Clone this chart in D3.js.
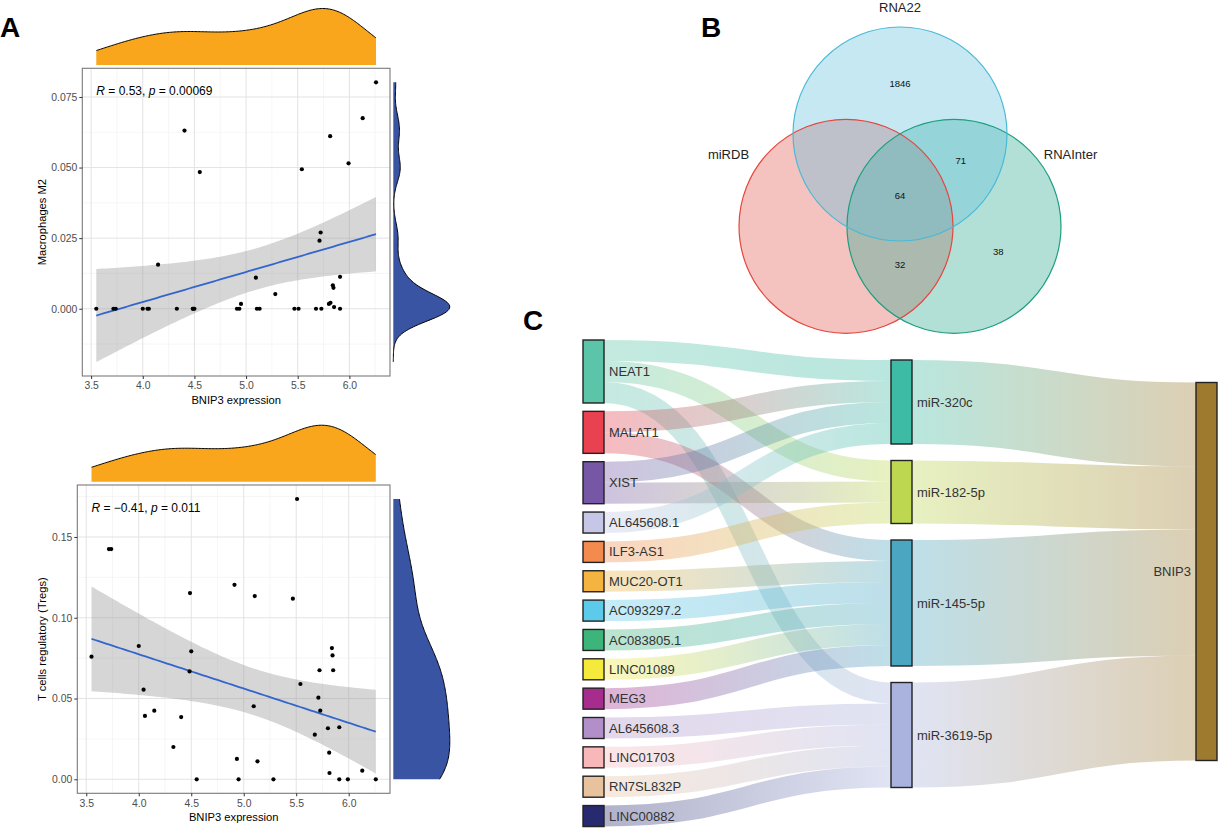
<!DOCTYPE html>
<html><head><meta charset="utf-8">
<script src="https://cdn.jsdelivr.net/npm/d3@7"></script>
<style>
body{margin:0;background:#fff}
svg{display:block;font-family:"Liberation Sans",Arial,sans-serif}
</style>
</head><body>
<svg id="fig" width="1218" height="828"></svg>
<script>
// ---------------- DATA ----------------
// Panel A: BNIP3 expression vs immune cell fractions (one value per sample)
const bnip3Expression = [3.55,3.716,3.738,4.00,4.046,4.059,4.148,4.33,4.404,4.484,4.488,4.50,4.552,4.912,4.935,4.951,5.095,5.105,5.131,5.283,5.468,5.508,5.540,5.677,5.711,5.722,5.729,5.802,5.814,5.817,5.840,5.846,5.852,5.910,5.910,5.992,6.129,6.258];
const macrophagesM2 = [0,0,0,0,0,0,0.0156,0,0.0631,0,0,0,0.0484,0,0,0.0017,0.011,0,0,0.0052,0,0,0.0494,0,0.0241,0.027,0,0.0017,0.0611,0.0021,0.0083,0.0074,0.0006,0,0.0113,0.0515,0.0675,0.0802];
const tregs = [0.0759,0.1425,0.1425,0.0825,0.0555,0.0392,0.0425,0.0200,0.0385,0.0668,0.1153,0.0792,0,0.1204,0.0126,0,0.0452,0.1134,0.0111,0,0.1118,0.1735,0.059,0.0276,0.0505,0.0675,0.0425,0.0316,0.0165,0.0039,0.0812,0.0767,0.0675,0.0322,0,0,0.0053,0];
const xTicks = [3.5,4.0,4.5,5.0,5.5,6.0];
const m2Ticks = [0,0.025,0.05,0.075];
const tregTicks = [0,0.05,0.10,0.15];
const corR = ["0.53","\u22120.41"];
const corP = ["0.00069","0.011"];
const yTitles = ["Macrophages M2","T cells regulatory (Tregs)"];
const xTitle = "BNIP3 expression";

// Panel B: Venn
const vennSets = ["RNA22","miRDB","RNAInter"];
const vennFill = ["#62BEDD","#E35A4E","#2AA990"];
const vennStroke = ["#49B9D6","#E4473E","#1E9E80"];
const vennRegionSets = [["RNA22"],["RNA22","RNAInter"],["RNA22","miRDB","RNAInter"],["miRDB","RNAInter"],["RNAInter"]];
const vennCounts = [1846,71,64,32,38];

// Panel C: Sankey lncRNA -> miRNA -> BNIP3
const lncRNAs = ["NEAT1","MALAT1","XIST","AL645608.1","ILF3-AS1","MUC20-OT1","AC093297.2","AC083805.1","LINC01089","MEG3","AL645608.3","LINC01703","RN7SL832P","LINC00882"];
const lncColors = ["#5CC4A8","#E9414F","#7657A6","#C6C6E6","#F38A4E","#F4B43F","#5CCBEB","#3DB57A","#F5EA3B","#A62D8E","#B28FC8","#F8B8BA","#E8C29D","#272A6E"];
const miRNAs = ["miR-320c","miR-182-5p","miR-145-5p","miR-3619-5p"];
const miRColors = ["#3DBBA4","#BDD751","#4AA6C1","#A9B3DD"];
const targetGene = ["BNIP3"];
const targetColor = ["#9E7A2E"];
const lncToMiR = [
  ["NEAT1","miR-320c"],["NEAT1","miR-182-5p"],["NEAT1","miR-3619-5p"],
  ["MALAT1","miR-320c"],["MALAT1","miR-145-5p"],
  ["XIST","miR-320c"],["XIST","miR-182-5p"],
  ["AL645608.1","miR-320c"],["ILF3-AS1","miR-182-5p"],
  ["MUC20-OT1","miR-145-5p"],["AC093297.2","miR-145-5p"],["AC083805.1","miR-145-5p"],
  ["LINC01089","miR-145-5p"],["MEG3","miR-145-5p"],
  ["AL645608.3","miR-3619-5p"],["LINC01703","miR-3619-5p"],["RN7SL832P","miR-3619-5p"],["LINC00882","miR-3619-5p"]
];

// ---------------- HELPERS ----------------
const svg = d3.select("#fig");
svg.append("rect").attr("width",1218).attr("height",828).attr("fill","#fff");
const defs = svg.append("defs");

function bwNrd0(x){
  const s = x.slice().sort(d3.ascending);
  const sd = d3.deviation(s);
  const iqr = d3.quantileSorted(s,0.75) - d3.quantileSorted(s,0.25);
  let lo = Math.min(sd, iqr/1.34);
  if(!(lo>0)) lo = sd || 1;
  return 0.9*lo*Math.pow(x.length,-0.2);
}
function kde(values,bw,lo,hi,n){
  const out=[];
  for(let i=0;i<n;i++){
    const v = lo+(hi-lo)*i/(n-1);
    let s=0;
    for(const xi of values){const z=(v-xi)/bw; s+=Math.exp(-0.5*z*z);}
    out.push([v, s/(values.length*bw*Math.sqrt(2*Math.PI))]);
  }
  return out;
}
function linFit(x,y){
  const n=x.length, mx=d3.mean(x), my=d3.mean(y);
  let sxx=0,sxy=0; for(let i=0;i<n;i++){sxx+=(x[i]-mx)**2; sxy+=(x[i]-mx)*(y[i]-my);}
  const b=sxy/sxx, a=my-b*mx;
  let rss=0; for(let i=0;i<n;i++){rss+=(y[i]-a-b*x[i])**2;}
  return {a,b,n,mx,sxx,s:Math.sqrt(rss/(n-2))};
}
const T975 = 2.028; // qt(0.975, df = 36)

function scatterPanel(cfg){
  const {xs, ys, box, yTicks, yFmt, yTitle, r, p, yTitleX} = cfg;
  const g = svg.append("g");
  const fit = linFit(xs,ys);
  const xmin=d3.min(xs), xmax=d3.max(xs);
  const band = d3.range(80).map(i=>{
    const xv = xmin+(xmax-xmin)*i/79;
    const yh = fit.a+fit.b*xv;
    const se = fit.s*Math.sqrt(1/fit.n+(xv-fit.mx)**2/fit.sxx);
    return {x:xv,y:yh,lo:yh-T975*se,hi:yh+T975*se};
  });
  const ylo = Math.min(d3.min(ys), d3.min(band,d=>d.lo));
  const yhi = Math.max(d3.max(ys), d3.max(band,d=>d.hi));
  const xpad=(xmax-xmin)*0.05, ypad=(yhi-ylo)*0.05;
  const x = d3.scaleLinear().domain([xmin-xpad,xmax+xpad]).range([box.left,box.right]);
  const y = d3.scaleLinear().domain([ylo-ypad,yhi+ypad]).range([box.bottom,box.top]);

  function minors(ticks, dom){
    const st = ticks[1]-ticks[0];
    const m = [];
    for(let v=ticks[0]-st/2; v<=dom[1]; v+=st){ if(v>=dom[0]) m.push(v); }
    return m;
  }
  g.append("rect").attr("x",box.left).attr("y",box.top).attr("width",box.right-box.left).attr("height",box.bottom-box.top).attr("fill","#fff");
  const gx = minors(xTicks,x.domain()), gy = minors(yTicks,y.domain());
  g.selectAll(".mnx").data(gx).join("line").attr("x1",d=>x(d)).attr("x2",d=>x(d)).attr("y1",box.top).attr("y2",box.bottom).attr("stroke","#F0F0F0").attr("stroke-width",0.6);
  g.selectAll(".mny").data(gy).join("line").attr("y1",d=>y(d)).attr("y2",d=>y(d)).attr("x1",box.left).attr("x2",box.right).attr("stroke","#F0F0F0").attr("stroke-width",0.6);
  g.selectAll(".mjx").data(xTicks).join("line").attr("x1",d=>x(d)).attr("x2",d=>x(d)).attr("y1",box.top).attr("y2",box.bottom).attr("stroke","#E3E3E3").attr("stroke-width",1);
  g.selectAll(".mjy").data(yTicks).join("line").attr("y1",d=>y(d)).attr("y2",d=>y(d)).attr("x1",box.left).attr("x2",box.right).attr("stroke","#E3E3E3").attr("stroke-width",1);

  g.append("path").datum(band).attr("d",d3.area().x(d=>x(d.x)).y0(d=>y(d.lo)).y1(d=>y(d.hi))).attr("fill","#999").attr("fill-opacity",0.4);
  g.append("path").datum(band).attr("d",d3.line().x(d=>x(d.x)).y(d=>y(d.y))).attr("fill","none").attr("stroke","#3366CC").attr("stroke-width",1.8);

  g.selectAll(".pt").data(xs.map((v,i)=>[v,ys[i]])).join("circle").attr("cx",d=>x(d[0])).attr("cy",d=>y(d[1])).attr("r",2.1).attr("fill","#000");

  const lab = g.append("text").attr("x",x(xmin)).attr("y",y(yhi)+ (cfg.labDy||0)).attr("font-size",12).attr("fill","#000").attr("dy","0.35em");
  lab.append("tspan").attr("font-style","italic").text("R");
  lab.append("tspan").text(" = "+r+", ");
  lab.append("tspan").attr("font-style","italic").text("p");
  lab.append("tspan").text(" = "+p);

  g.append("rect").attr("x",box.left).attr("y",box.top).attr("width",box.right-box.left).attr("height",box.bottom-box.top).attr("fill","none").attr("stroke","#7A7A7A").attr("stroke-width",1.1);

  const ax = g.append("g").attr("transform",`translate(0,${box.bottom})`).call(d3.axisBottom(x).tickValues(xTicks).tickFormat(d3.format(".1f")).tickSize(3).tickPadding(3));
  const ay = g.append("g").attr("transform",`translate(${box.left},0)`).call(d3.axisLeft(y).tickValues(yTicks).tickFormat(d3.format(yFmt)).tickSize(3).tickPadding(2));
  [ax,ay].forEach(a=>{
    a.select(".domain").remove();
    a.selectAll(".tick line").attr("stroke","#333");
    a.selectAll(".tick text").attr("fill","#4D4D4D").attr("font-size",10.4).attr("font-family",null);
  });
  g.append("text").attr("x",(box.left+box.right)/2).attr("y",box.bottom+27.5).attr("text-anchor","middle").attr("font-size",11.2).attr("fill","#000").text(xTitle);
  g.append("text").attr("transform",`translate(${yTitleX},${(box.top+box.bottom)/2}) rotate(-90)`).attr("text-anchor","middle").attr("dy","0.35em").attr("font-size",11.2).attr("fill","#000").text(yTitle);

  const margSize = 56.5, off = 3.3;
  const dx = kde(xs,bwNrd0(xs),xmin,xmax,200);
  const dxMax = d3.max(dx,d=>d[1]);
  const baseTop = box.top-off;
  g.append("path").datum(dx).attr("d",d3.area().x(d=>x(d[0])).y0(baseTop).y1(d=>baseTop-d[1]/dxMax*margSize).curve(d3.curveBasis)).attr("fill","#F9A61C");
  g.append("path").datum(dx).attr("d",d3.line().x(d=>x(d[0])).y(d=>baseTop-d[1]/dxMax*margSize).curve(d3.curveBasis)).attr("fill","none").attr("stroke","#000").attr("stroke-width",1);

  const dy = kde(ys,bwNrd0(ys),ylo,yhi,240);
  const dyMax = d3.max(dy,d=>d[1]);
  const baseR = box.right+off;
  g.append("path").datum(dy).attr("d",d3.area().y(d=>y(d[0])).x0(baseR).x1(d=>baseR+d[1]/dyMax*margSize).curve(d3.curveBasis)).attr("fill","#3A54A4");
  g.append("path").datum(dy).attr("d",d3.line().y(d=>y(d[0])).x(d=>baseR+d[1]/dyMax*margSize).curve(d3.curveBasis)).attr("fill","none").attr("stroke","#000").attr("stroke-width",1);
}

scatterPanel({xs:bnip3Expression, ys:macrophagesM2, box:{left:82.3,right:390,top:68.3,bottom:376}, yTicks:m2Ticks, yFmt:".3f", yTitle:yTitles[0], r:corR[0], p:corP[0], yTitleX:42, labDy:9});
scatterPanel({xs:bnip3Expression, ys:tregs, box:{left:77.3,right:390,top:485,bottom:793.3}, yTicks:tregTicks, yFmt:".2f", yTitle:yTitles[1], r:corR[1], p:corP[1], yTitleX:41.7, labDy:9});

// ---------------- VENN ----------------
const vR = 107;
const vCenters = [[900,134],[846,226.3],[954,226.3]];
const vg = svg.append("g");
const centroid = [d3.mean(vCenters,d=>d[0]), d3.mean(vCenters,d=>d[1])];
vg.selectAll(".vf").data([1,2,0]).join("circle").attr("cx",i=>vCenters[i][0]).attr("cy",i=>vCenters[i][1]).attr("r",vR).attr("fill",i=>vennFill[i]).attr("fill-opacity",0.36);
vg.selectAll(".vs").data([1,2,0]).join("circle").attr("cx",i=>vCenters[i][0]).attr("cy",i=>vCenters[i][1]).attr("r",vR).attr("fill","none").attr("stroke",i=>vennStroke[i]).attr("stroke-width",1.2);
vennRegionSets.forEach((sets,k)=>{
  const idx = sets.map(s=>vennSets.indexOf(s));
  let px,py;
  if(idx.length===1){const c=vCenters[idx[0]]; px=c[0]+0.82*(c[0]-centroid[0]); py=c[1]+0.82*(c[1]-centroid[1]);}
  else if(idx.length===2){const m=[(vCenters[idx[0]][0]+vCenters[idx[1]][0])/2,(vCenters[idx[0]][1]+vCenters[idx[1]][1])/2]; px=centroid[0]+2.25*(m[0]-centroid[0]); py=centroid[1]+2.25*(m[1]-centroid[1]);}
  else {px=centroid[0]; py=centroid[1];}
  vg.append("text").attr("x",px).attr("y",py).attr("dy","0.35em").attr("text-anchor","middle").attr("font-size",9.5).attr("fill","#111").text(vennCounts[k]);
});
vg.append("text").attr("x",vCenters[0][0]).attr("y",vCenters[0][1]-vR-15.5).attr("text-anchor","middle").attr("font-size",13).attr("fill","#222").text(vennSets[0]);
vg.append("text").attr("x",vCenters[1][0]-117.5).attr("y",vCenters[1][1]-72).attr("dy","0.35em").attr("text-anchor","middle").attr("font-size",13).attr("fill","#222").text(vennSets[1]);
vg.append("text").attr("x",vCenters[2][0]+116.5).attr("y",vCenters[2][1]-72).attr("dy","0.35em").attr("text-anchor","middle").attr("font-size",13).attr("fill","#222").text(vennSets[2]);

// ---------------- SANKEY ----------------
const sk = svg.append("g");
const ky = 21;
const nodeW = 21;
const cols = [
  {names:lncRNAs, colors:lncColors, x0:583, top:340, gap:8.35},
  {names:miRNAs, colors:miRColors, x0:891, top:360, gap:16.5},
  {names:targetGene, colors:targetColor, x0:1196, center:571.5, gap:0}
];
const links = lncToMiR.map(([s,t])=>({source:s,target:t,value:1}));
miRNAs.forEach(m=>{
  const v = d3.sum(links.filter(l=>l.target===m),l=>l.value);
  links.push({source:m,target:targetGene[0],value:v});
});
const nodeMap = new Map();
cols.forEach((c,ci)=>{
  c.names.forEach((n,i)=>nodeMap.set(n,{name:n,color:c.colors[i],col:ci,x0:c.x0,x1:c.x0+nodeW,out:[],inn:[]}));
});
links.forEach(l=>{l.s=nodeMap.get(l.source); l.t=nodeMap.get(l.target); l.s.out.push(l); l.t.inn.push(l);});
cols.forEach(c=>{
  const ns = c.names.map(n=>nodeMap.get(n));
  ns.forEach(n=>n.value=Math.max(d3.sum(n.out,l=>l.value),d3.sum(n.inn,l=>l.value)));
  const total = d3.sum(ns,n=>n.value)*ky + (ns.length-1)*c.gap;
  let y = c.top!==undefined ? c.top : c.center-total/2;
  ns.forEach(n=>{n.y0=y; n.y1=y+n.value*ky; y=n.y1+c.gap;});
});
nodeMap.forEach(n=>{
  let y=n.y0; n.out.sort((a,b)=>a.t.y0-b.t.y0).forEach(l=>{l.sy=y+l.value*ky/2; y+=l.value*ky;});
  y=n.y0; n.inn.sort((a,b)=>a.s.y0-b.s.y0).forEach(l=>{l.ty=y+l.value*ky/2; y+=l.value*ky;});
});
links.forEach((l,i)=>{
  const gr = defs.append("linearGradient").attr("id","lg"+i).attr("gradientUnits","userSpaceOnUse")
    .attr("x1",l.s.x1).attr("x2",l.t.x0).attr("y1",0).attr("y2",0);
  gr.append("stop").attr("offset","0%").attr("stop-color",l.s.color);
  gr.append("stop").attr("offset","100%").attr("stop-color",l.t.color);
});
const linkGen = d3.linkHorizontal().source(l=>[l.s.x1,l.sy]).target(l=>[l.t.x0,l.ty]);
sk.selectAll(".lk").data(links).join("path").attr("d",linkGen).attr("fill","none")
  .attr("stroke",(l,i)=>`url(#lg${i})`).attr("stroke-opacity",0.36).attr("stroke-width",l=>l.value*ky);
const nodes = Array.from(nodeMap.values());
sk.selectAll(".nd").data(nodes).join("rect").attr("x",n=>n.x0).attr("y",n=>n.y0).attr("width",nodeW).attr("height",n=>n.y1-n.y0)
  .attr("fill",n=>n.color).attr("stroke","#222").attr("stroke-width",1.4);
sk.selectAll(".nl").data(nodes).join("text")
  .attr("x",n=>n.col===2? n.x0-5 : n.x1+5).attr("y",n=>(n.y0+n.y1)/2).attr("dy","0.35em")
  .attr("text-anchor",n=>n.col===2?"end":"start").attr("font-size",13).attr("fill","#333").text(n=>n.name);

// ---------------- PANEL LETTERS ----------------
const letters = [["A",0,37],["B",701,37],["C",523,330]];
svg.selectAll(".lt").data(letters).join("text").attr("x",d=>d[1]).attr("y",d=>d[2]).attr("font-size",28).attr("font-weight","bold").attr("fill","#000").text(d=>d[0]);
</script>
</body></html>
